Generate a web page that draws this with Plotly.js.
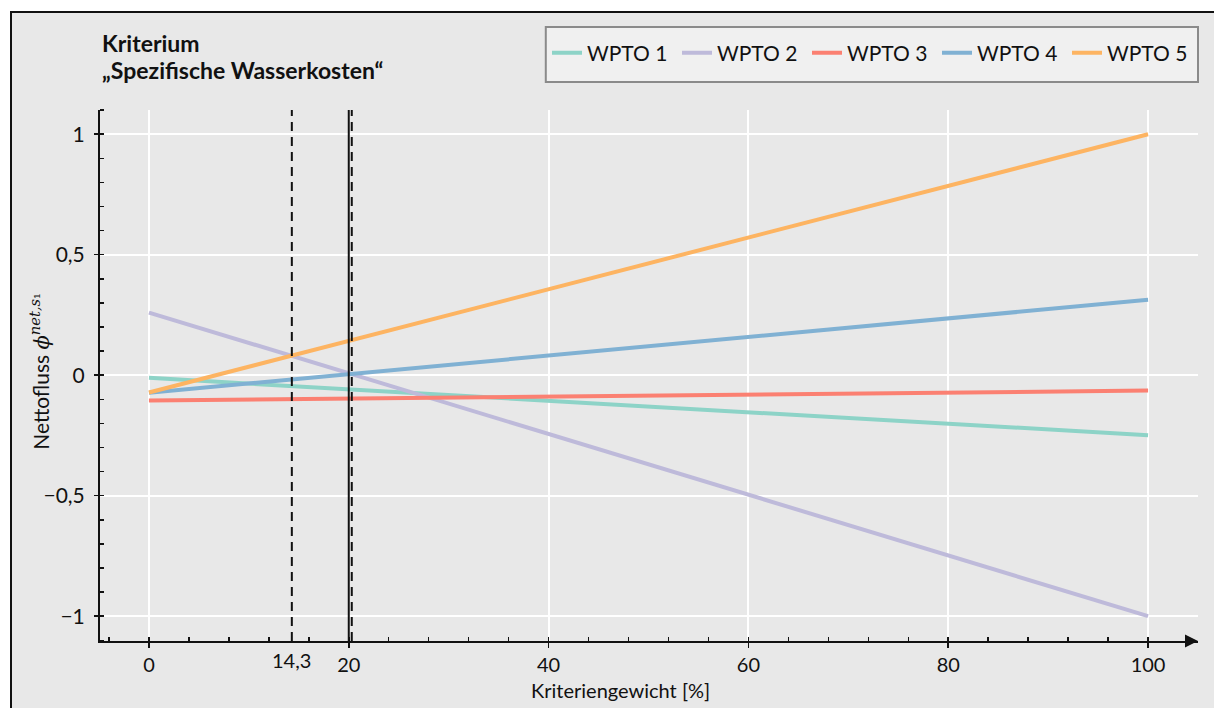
<!DOCTYPE html>
<html>
<head>
<meta charset="utf-8">
<script src="https://cdn.plot.ly/plotly-3.0.1.min.js"></script>
<style>
  html, body { margin: 0; padding: 0; background: #ffffff; }
  #frame {
    position: absolute; left: 10px; top: 11px; width: 1204px; height: 697px;
    background: #e8e8e8; border-left: 2px solid #111; border-top: 2px solid #111;
    box-sizing: border-box;
  }
  #chart { position: absolute; left: 0; top: 0; width: 1214px; height: 708px; }
</style>
</head>
<body>
<div id="frame"></div>
<div id="chart"></div>
<script>
// Criterion weight (%) at both ends of the sensitivity sweep
const weights = [0, 100];

// Net flow of each alternative at weight 0 % and 100 %
const seriesNames = ['WPTO 1', 'WPTO 2', 'WPTO 3', 'WPTO 4', 'WPTO 5'];
const wpto1 = [-0.011, -0.249];
const wpto2 = [0.260, -1.000];
const wpto3 = [-0.105, -0.064];
const wpto4 = [-0.073, 0.313];
const wpto5 = [-0.072, 1.000];
const seriesValues = [wpto1, wpto2, wpto3, wpto4, wpto5];
const seriesColors = ['#8dd3c7', '#bebada', '#fb8072', '#80b1d3', '#fdb462'];

// Vertical reference weights
const dashedWeights = [14.3, 20.3];
const currentWeight = [20];

// Axis ticks
const xTickVals = [0, 20, 40, 60, 80, 100];
const xTickText = ['0', '20', '40', '60', '80', '100'];
const yTickVals = [-1, -0.5, 0, 0.5, 1];
const yTickText = ['\u22121', '\u22120,5', '0', '0,5', '1'];
const extraXLabel = { value: 14.3, text: '14,3' };

const titleLines = ['Kriterium', '\u201eSpezifische Wasserkosten\u201c'];

const FONT = 'Lato, "Noto Sans", sans-serif';
const TXT = 20;

const traces = seriesNames.map((name, i) => ({
  type: 'scatter',
  mode: 'lines',
  name: name,
  x: weights,
  y: seriesValues[i],
  line: { color: seriesColors[i], width: 4 },
  hoverinfo: 'skip'
}));

const shapes = [];
dashedWeights.forEach(v => shapes.push({
  type: 'line', xref: 'x', yref: 'paper', x0: v, x1: v, y0: 0, y1: 1,
  line: { color: '#111', width: 2, dash: '9px,6px' }
}));
currentWeight.forEach(v => shapes.push({
  type: 'line', xref: 'x', yref: 'paper', x0: v, x1: v, y0: 0, y1: 1,
  line: { color: '#111', width: 2 }
}));
// legend frame
shapes.push({
  type: 'rect', xref: 'paper', yref: 'paper',
  x0: 0.406, x1: 1.0, y0: 1.0527, y1: 1.1563,
  fillcolor: '#f0f0f0', line: { color: '#8a8a8a', width: 2 }, layer: 'below'
});

const annotations = [
  {
    xref: 'paper', yref: 'paper', x: 0, y: 1.1262, xanchor: 'left', yanchor: 'middle',
    showarrow: false, text: '<b>' + titleLines[0] + '</b>',
    font: { family: FONT, size: 23, color: '#111' }
  },
  {
    xref: 'paper', yref: 'paper', x: 0, y: 1.0753, xanchor: 'left', yanchor: 'middle',
    showarrow: false, text: '<b>' + titleLines[1] + '</b>',
    font: { family: FONT, size: 23, color: '#111' }
  },
  {
    xref: 'paper', yref: 'paper', x: -0.0546, y: 0.507, xanchor: 'center', yanchor: 'middle',
    textangle: -90, showarrow: false,
    text: 'Nettofluss <span style="font-family:\'DejaVu Serif\',serif"><i>\u03d5</i><sup><i>net,s</i>\u2081</sup></span>',
    font: { family: FONT, size: 21, color: '#111' }
  },
  {
    xref: 'paper', yref: 'paper', x: 0.474, y: -0.0923, xanchor: 'center', yanchor: 'middle',
    showarrow: false, text: 'Kriteriengewicht [%]',
    font: { family: FONT, size: TXT, color: '#111' }
  },
  {
    xref: 'x', yref: 'paper', x: extraXLabel.value, y: 0, xanchor: 'center', yanchor: 'top',
    yshift: -5, showarrow: false, text: extraXLabel.text,
    font: { family: FONT, size: TXT, color: '#111' }
  },
  {
    // arrow head at the end of the x axis
    xref: 'paper', yref: 'paper', x: 1, y: 0, ax: -16, ay: 0, axref: 'pixel', ayref: 'pixel',
    showarrow: true, arrowhead: 2, arrowsize: 1.3, arrowwidth: 2, arrowcolor: '#111', text: ' '
  }
];

const layout = {
  width: 1214, height: 708,
  margin: { l: 100, r: 15.5, t: 110, b: 67 },
  paper_bgcolor: 'rgba(0,0,0,0)',
  plot_bgcolor: 'rgba(0,0,0,0)',
  font: { family: FONT, size: TXT, color: '#111' },
  showlegend: true,
  legend: {
    orientation: 'h', xref: 'container', yref: 'container',
    x: 547 / 1214, xanchor: 'left', y: 1 - 53 / 708, yanchor: 'middle',
    bgcolor: 'rgba(0,0,0,0)', borderwidth: 0,
    entrywidth: 85, entrywidthmode: 'pixels',
    font: { family: FONT, size: 21, color: '#111' }
  },
  xaxis: {
    range: [-4.9, 105],
    tickmode: 'array', tickvals: xTickVals, ticktext: xTickText,
    showgrid: true, gridcolor: '#ffffff', gridwidth: 2,
    zeroline: false,
    showline: true, linecolor: '#111', linewidth: 2,
    ticks: 'outside', ticklen: 5, tickwidth: 1.5, tickcolor: '#111',
    ticklabelstandoff: 0,
    tickfont: { family: FONT, size: TXT, color: '#111' },
    minor: { tick0: 0, dtick: 4, ticks: 'inside', ticklen: 4, tickwidth: 1.5, tickcolor: '#111', showgrid: false },
    fixedrange: true
  },
  yaxis: {
    range: [-1.103, 1.1005],
    tickmode: 'array', tickvals: yTickVals, ticktext: yTickText,
    showgrid: true, gridcolor: '#ffffff', gridwidth: 2,
    zeroline: false,
    showline: true, linecolor: '#111', linewidth: 2,
    ticks: 'outside', ticklen: 4, tickwidth: 1.5, tickcolor: '#111',
    ticklabelstandoff: 5,
    tickfont: { family: FONT, size: 21, color: '#111' },
    minor: { tick0: 0, dtick: 0.1, ticks: 'inside', ticklen: 4, tickwidth: 1.5, tickcolor: '#111', showgrid: false },
    fixedrange: true
  },
  shapes: shapes,
  annotations: annotations
};

Plotly.newPlot('chart', traces, layout, { displayModeBar: false, staticPlot: true });
</script>
</body>
</html>
